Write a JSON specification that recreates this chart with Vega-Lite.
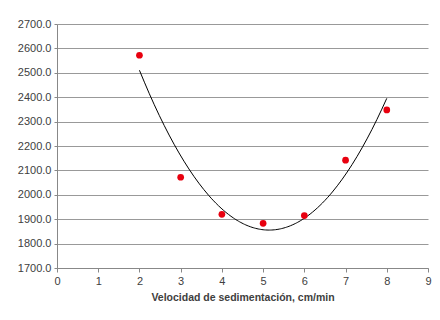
{
  "$schema": "https://vega.github.io/schema/vega-lite/v6.json",
  "width": 371,
  "height": 244,
  "autosize": {"type": "none"},
  "padding": {"left": 57, "top": 24, "right": 12, "bottom": 52},
  "background": "white",
  "config": {
    "view": {"stroke": null},
    "font": "Liberation Sans",
    "axis": {
      "labelFont": "Liberation Sans",
      "labelFontSize": 11,
      "labelColor": "#404040",
      "titleColor": "#404040",
      "domainColor": "#888888",
      "tickColor": "#888888",
      "gridColor": "#999999",
      "tickSize": 4,
      "labelOverlap": false,
      "labelFlush": false
    }
  },
  "data": {
    "values": [
      {"v": 2, "y": 2572},
      {"v": 3, "y": 2072},
      {"v": 4, "y": 1920},
      {"v": 5, "y": 1883},
      {"v": 6, "y": 1915},
      {"v": 7, "y": 2142},
      {"v": 8, "y": 2348}
    ]
  },
  "encoding": {
    "x": {
      "field": "v",
      "type": "quantitative",
      "scale": {"domain": [0, 9], "nice": false},
      "axis": {
        "values": [0, 1, 2, 3, 4, 5, 6, 7, 8, 9],
        "grid": false,
        "title": "Velocidad de sedimentación, cm/min",
        "titleFontSize": 10.5,
        "titleFontWeight": "bold",
        "titlePadding": 6,
        "labelPadding": 3
      }
    },
    "y": {
      "field": "y",
      "type": "quantitative",
      "scale": {"domain": [1700, 2700], "nice": false, "zero": false},
      "axis": {
        "values": [1700, 1800, 1900, 2000, 2100, 2200, 2300, 2400, 2500, 2600, 2700],
        "format": ".1f",
        "title": null,
        "grid": true,
        "tickSize": 3,
        "labelPadding": 3
      }
    }
  },
  "layer": [
    {
      "transform": [
        {"regression": "y", "on": "v", "method": "poly", "order": 2, "extent": [2, 8]}
      ],
      "mark": {"type": "line", "color": "black", "strokeWidth": 1, "interpolate": "monotone"}
    },
    {
      "mark": {"type": "circle", "color": "#e8000f", "opacity": 1, "size": 45}
    }
  ]
}
